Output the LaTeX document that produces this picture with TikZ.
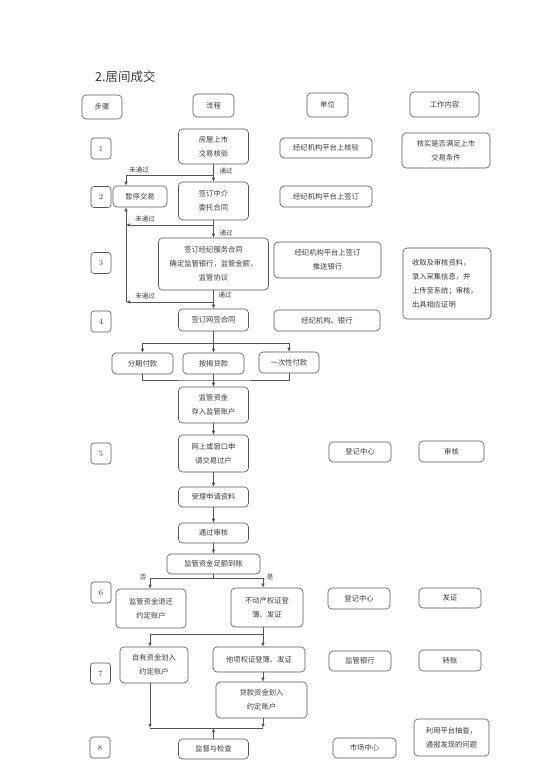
\documentclass[tikz,border=0pt]{standalone}
\usepackage{fontspec}
\newfontfamily\cjk{Noto Sans CJK SC}
\usetikzlibrary{arrows.meta,calc}
\definecolor{lncol}{HTML}{555555}
\definecolor{tx}{HTML}{3A3A3A}
\newcommand\bx[6]{\node[box, minimum width=#4pt, minimum height=#5pt] (#1) at (#2,#3) {#6};}
\begin{document}
\begin{tikzpicture}[x=1pt,y=-1pt,
 box/.style={draw=lncol, line width=0.6pt, rounded corners=4pt, font=\cjk\fontsize{7.3}{14}\selectfont, text=tx, align=center, inner sep=0pt},
 num/.style={draw=lncol, line width=0.6pt, rounded corners=3pt, minimum width=20pt, minimum height=21pt, font=\fontsize{8}{10}\selectfont, text=tx, inner sep=0pt},
 lab/.style={font=\cjk\fontsize{6.5}{8}\selectfont, text=tx, inner sep=0pt},
 wire/.style={draw=lncol, line width=0.6pt},
 arr/.style={draw=lncol, line width=0.6pt, -{Latex[length=4pt,width=3.5pt]}}]
\fill[white] (0,0) rectangle (545,771);
\path[use as bounding box] (0,0) rectangle (545,771);

\node[font=\cjk\fontsize{12.5}{13}\selectfont, anchor=west, text=tx, inner sep=0pt] (title) at (95,77) {2.居间成交};

% headers
\bx{hs}{102}{107}{40}{24}{步骤}
\bx{hf}{213.5}{105.5}{41}{23}{流程}
\bx{hu}{327.5}{105}{41}{24}{单位}
\bx{hw}{444.5}{104.5}{69}{25}{工作内容}

% step numbers
\node[num] (s1) at (101,148.5) {1};
\node[num] (s2) at (101,197) {2};
\node[num] (s3) at (101,263) {3};
\node[num] (s4) at (101,321.5) {4};
\node[num] (s5) at (101,453.5) {5};
\node[num] (s6) at (101,592.5) {6};
\node[num] (s7) at (100.5,673.5) {7};
\node[num] (s8) at (100,747.5) {8};

% step 1
\bx{f1}{213.5}{146.5}{70}{35}{房屋上市\\交易核验}
\bx{u1}{326}{148}{92}{20}{经纪机构平台上核验}
\bx{w1}{446}{150.5}{88}{35}{核实是否满足上市\\交易条件}
% step 2
\bx{stop}{140}{196.5}{54}{21}{暂停交易}
\bx{f2}{213.5}{201}{70}{38}{签订中介\\委托合同}
\bx{u2}{326}{196.5}{92}{21}{经纪机构平台上签订}
% step 3
\bx{f3}{213.5}{264}{110}{52}{签订经纪服务合同\\确定监管银行，监管金额，\\监管协议}
\bx{u3}{327.5}{260}{107}{36}{经纪机构平台上签订\\推送银行}
\node[box, minimum width=88pt, minimum height=71pt, text width=70pt, align=left] (w3) at (447,283.5) {收取及审核资料，\\录入采集信息，并\\上传至系统；审核，\\出具相应证明};
% step 4
\bx{f4}{213.5}{320}{70}{22}{签订网签合同}
\bx{u4}{327}{320.5}{106}{21}{经纪机构、银行}
\bx{p1}{142.5}{363.5}{61}{21}{分期付款}
\bx{p2}{213.5}{363.5}{61}{21}{按揭贷款}
\bx{p3}{289}{362.5}{60}{21}{一次性付款}
\bx{f5}{213.5}{405}{70}{36}{监管资金\\存入监管账户}
% step 5
\bx{f6}{213.5}{453.5}{70}{37}{网上或窗口申\\请交易过户}
\bx{u5}{360}{452}{62}{20}{登记中心}
\bx{w5}{451.5}{451.5}{65}{21}{审核}
\bx{f7}{213.5}{497}{70}{20}{受理申请资料}
\bx{f8}{213.5}{533}{70}{20}{通过审核}
\bx{f9}{213.5}{564}{93}{20}{监管资金足额到账}
% step 6
\bx{no}{151}{608.5}{70}{39}{监管资金退还\\约定账户}
\bx{yes}{267}{607.5}{72}{39}{不动产权证登\\簿、发证}
\bx{u6}{359}{598.5}{62}{21}{登记中心}
\bx{w6}{450}{598}{62}{20}{发证}
% step 7
\bx{own}{154}{665}{68}{36}{自有资金划入\\约定账户}
\bx{ta}{259}{659.5}{92}{25}{他项权证登簿、发证}
\bx{loan}{261.5}{700}{91}{36}{贷款资金划入\\约定账户}
\bx{u7}{360}{661}{62}{20}{监管银行}
\bx{w7}{450}{660.5}{62}{21}{转账}
% step 8
\bx{chk}{213.5}{749}{70}{20}{监督与检查}
\bx{u8}{364.5}{748}{63}{20}{市场中心}
\bx{w8}{451.5}{737.5}{75}{37}{利用平台抽查，\\通报发现的问题}

% connectors
\coordinate (k1) at (213.5,175);
\draw[wire] (f1.south) -- (k1);
\draw[arr] (k1) -- (f2.north);
\draw[arr] (k1) -| ([xshift=-14pt]stop.north);
\node[lab] at (139,170) {未通过};
\node[lab] at (226,171) {通过};

\coordinate (k2) at (213.5,225);
\coordinate (k3) at (213.5,302);
\coordinate (v) at (126,302);
\draw[wire] (f2.south) -- (k2);
\draw[arr] (k2) -- (f3.north);
\draw[arr] (k2) -- (k2 -| v);
\draw[wire] (f3.south) -- (k3);
\draw[arr] (k3) -- (f4.north);
\draw[arr] (k3) -- (v);
\draw[arr] (v) -- (v |- stop.south);
\node[lab] at (145,219) {未通过};
\node[lab] at (226,233) {通过};
\node[lab] at (145,296) {未通过};
\node[lab] at (225,295) {通过};

\coordinate (k4) at (213.5,343);
\draw[wire] (f4.south) -- (k4);
\draw[arr] (k4) -- (p2.north);
\draw[arr] (k4) -| (p1.north);
\draw[arr] (k4) -| (p3.north);
\coordinate (j4) at (213.5,380);
\draw[wire] (p1.south) |- (j4) -| (p3.south);
\draw[arr] (p2.south) -- (f5.north);
\draw[arr] (f5.south) -- (f6.north);
\draw[arr] (f6.south) -- (f7.north);
\draw[arr] (f7.south) -- (f8.north);
\draw[arr] (f8.south) -- (f9.north);

\coordinate (k6) at (213.5,578);
\draw[wire] (f9.south) -- (k6);
\draw[arr] (k6) -| ([xshift=-1pt]no.north);
\draw[arr] (k6) -| ([xshift=-4pt]yes.north);
\node[lab] at (143,577) {否};
\node[lab] at (270,577) {是};

\coordinate (k7) at (263,634);
\draw[wire] ([xshift=-4pt]yes.south) -- (k7);
\draw[arr] (k7) -- (k7 |- ta.north);
\draw[arr] (k7) -| ([xshift=-4pt]own.north);
\draw[arr] (k7 |- ta.south) -- (k7 |- loan.north);
\coordinate (j8) at (263,728);
\coordinate (j8l) at (150,728);
\draw[arr] (j8 |- loan.south) -- (j8);
\draw[arr] ([xshift=-4pt]own.south) -- (j8l);
\draw[wire] (j8l) -- (j8);
\draw[arr] (chk.north) -- (chk.north |- j8);
\end{tikzpicture}
\end{document}
